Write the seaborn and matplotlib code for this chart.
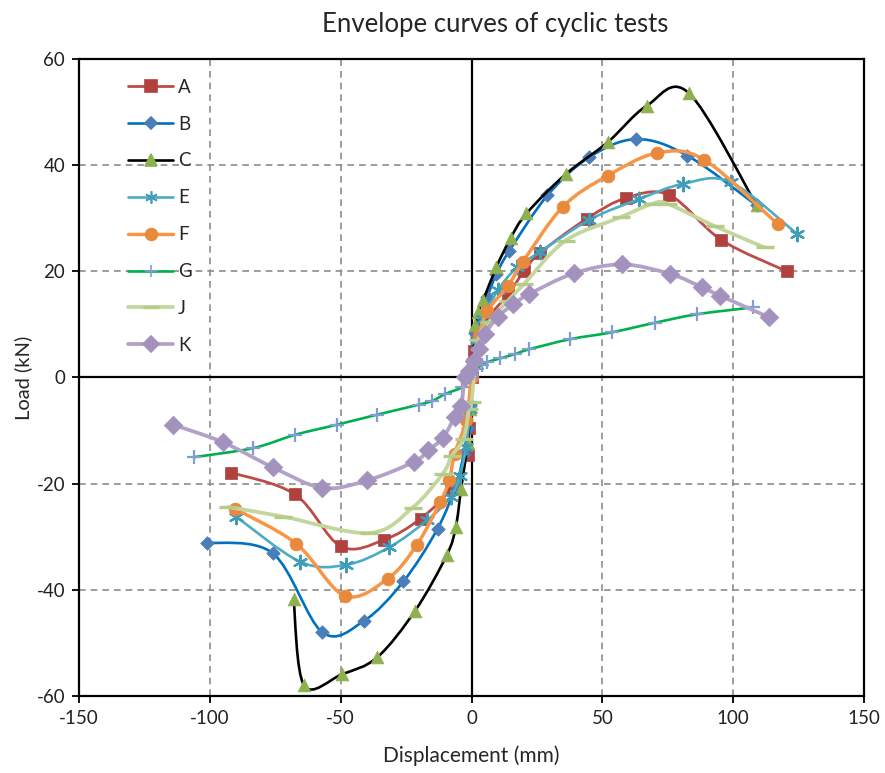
"""Envelope curves of cyclic tests (load vs displacement)."""
import matplotlib
matplotlib.use("Agg")
import matplotlib.pyplot as plt
from matplotlib.lines import Line2D
from matplotlib.path import Path
from matplotlib.patches import PathPatch
import numpy as np
import seaborn as sns

# ---- data (displacement mm, load kN) ----
A_DISP = [-92, -67.5, -50, -33.5, -19.5, -8, -1.5, -1, 0, 1, 4.5, 14, 20, 26, 44, 59, 75.5, 95.5, 120.5]
A_LOAD = [-17.9, -22.0, -31.8, -30.6, -26.6, -21.0, -14.6, -9.5, 0, 5, 10.1, 15.7, 20.0, 23.4, 29.9, 33.8, 34.4, 25.9, 20.0]

B_DISP = [-101, -76, -57, -41, -26, -13, -6, -3, -1.5, -0.5, 0.5, 1.5, 6, 9.5, 14.5, 29, 45, 63, 82.5, 109]
B_LOAD = [-31.1, -33.1, -48.0, -45.8, -38.4, -28.5, -20.3, -14.5, -9.5, -5, 3, 8.3, 15.1, 19.5, 23.9, 34.3, 41.5, 44.9, 41.8, 32.4]

C_DISP = [-68, -64, -49.5, -36, -21.5, -9.5, -6, -4, -1.5, -0.5, 0.5, 1.5, 2.5, 4.5, 9.5, 15, 21, 36, 52, 67, 83, 109]
C_LOAD = [-41.8, -58.0, -55.9, -52.7, -43.9, -33.5, -28.1, -21.0, -12.4, -6, 3, 9.8, 12.3, 14.6, 20.8, 26.3, 30.9, 38.3, 44.3, 51.2, 53.6, 32.4]

E_DISP = [-90, -65.5, -48, -31.5, -17, -8, -4.5, -2, -0.5, 0.5, 2, 4.5, 10, 17.5, 26, 45, 64, 81, 99, 124.5]
E_LOAD = [-26.2, -34.7, -35.3, -32.0, -26.9, -22.5, -18.5, -13, -6, 3, 7, 11, 16.4, 20.8, 23.6, 29.7, 33.6, 36.5, 36.8, 27.0]

F_DISP = [-90.5, -67, -48.5, -32, -21, -12, -8.5, -6.5, -2, 0, 3, 6, 14, 19.5, 35, 52, 71, 89, 117]
F_LOAD = [-24.7, -31.3, -41.1, -37.9, -31.6, -23.5, -19.4, -14.4, -8, 0, 8, 12.5, 17.3, 21.7, 32.2, 38.0, 42.3, 41.0, 28.9]

G_DISP = [-106, -83.5, -67.5, -51.5, -36, -20, -15, -10, -3.5, 0, 2, 4, 6, 11, 16.5, 22, 37.5, 53.5, 70, 86, 107.5]
G_LOAD = [-15.0, -13.3, -10.8, -8.9, -7.0, -5.1, -4.4, -3.1, -1.8, 0, 1.6, 2.4, 2.9, 3.6, 4.4, 5.3, 7.2, 8.5, 10.3, 11.9, 13.2]

J_DISP = [-93, -72, -39, -22.5, -11, -7.5, -3, -1, 0, 2.5, 6.5, 14, 20, 36, 57, 69, 75, 93, 112]
J_LOAD = [-24.4, -26.2, -29.3, -24.5, -18.1, -14.7, -11.5, -6, -4.6, 7, 10.4, 14.5, 17.6, 25.8, 30.2, 32.7, 32.7, 28.5, 24.5]

K_DISP = [-114, -95, -76, -57, -40, -22, -16.5, -11, -6.5, -4, -2.5, -1, 1, 3, 5, 10, 16, 22, 39, 57.5, 76, 88, 95, 113.5]
K_LOAD = [-8.9, -12.2, -16.9, -20.8, -19.4, -15.9, -13.7, -11.4, -7.5, -5.3, 0.1, 1.3, 3.2, 5.4, 8.1, 11.4, 13.8, 15.7, 19.6, 21.3, 19.5, 17.0, 15.4, 11.4]

NAMES = ["A", "B", "C", "E", "F", "G", "J", "K"]
DISPS = [A_DISP, B_DISP, C_DISP, E_DISP, F_DISP, G_DISP, J_DISP, K_DISP]
LOADS = [A_LOAD, B_LOAD, C_LOAD, E_LOAD, F_LOAD, G_LOAD, J_LOAD, K_LOAD]

STYLES = {
    "A": dict(line="#BE4B48", lw=2.0, marker="s", mc="#B0413E", s=75, ms=8.5),
    "B": dict(line="#0070C0", lw=1.9, marker="D", mc="#4A7EBB", s=48, ms=6.5),
    "C": dict(line="#000000", lw=1.9, marker="^", mc="#8EB04E", s=85, ms=8.5),
    "E": dict(line="#4BACC6", lw=1.9, marker=(6, 2, 0), mc="#3F9DB8", s=95, ms=9),
    "F": dict(line="#F79646", lw=2.5, marker="o", mc="#E8893C", s=85, ms=8.5),
    "G": dict(line="#00B050", lw=1.9, marker="+", mc="#7F9FD2", s=95, ms=9),
    "J": dict(line="#C3D69B", lw=2.7, marker="_", mc="#B5CC88", s=160, ms=12),
    "K": dict(line="#B3A2C7", lw=2.7, marker="D", mc="#A391BE", s=90, ms=8.5),
}


def smooth_path(x, y):
    """Excel-style smoothed line: cubic Bezier segments through every point."""
    pts = np.column_stack([x, y]).astype(float)
    ext = np.vstack([pts[0], pts, pts[-1]])
    verts = [pts[0]]
    codes = [Path.MOVETO]
    for i in range(len(pts) - 1):
        p0, p1, p2, p3 = ext[i], ext[i + 1], ext[i + 2], ext[i + 3]
        verts += [p1 + (p2 - p0) / 6, p2 - (p3 - p1) / 6, p2]
        codes += [Path.CURVE4] * 3
    return Path(verts, codes)


sns.set_style("white")
plt.rcParams["font.family"] = ["Lato", "DejaVu Sans"]
plt.rcParams["axes.unicode_minus"] = False

fig = plt.figure(figsize=(8.85, 7.73), dpi=100)
ax = fig.add_axes([0.0893, 0.0996, 0.8870, 0.8241])

for i, (name, xs, ys) in enumerate(zip(NAMES, DISPS, LOADS)):
    st = STYLES[name]
    z = 3 + i * 0.1
    ax.add_patch(PathPatch(smooth_path(xs, ys), fill=False, edgecolor=st["line"],
                           lw=st["lw"], zorder=z, capstyle="round", joinstyle="round"))
    kws = dict(marker=st["marker"], s=st["s"], color=st["mc"], zorder=z + 0.05,
               legend=False, ax=ax)
    if st["marker"] in ("+", "_") or isinstance(st["marker"], tuple):
        kws["linewidth"] = 2.4 if st["marker"] == "_" else 1.6
    else:
        kws["edgecolor"] = st["mc"]
        kws["linewidth"] = 0.5
    sns.scatterplot(x=xs, y=ys, **kws)

ax.set_xlim(-150, 150)
ax.set_ylim(-60, 60)
ax.set_xticks(np.arange(-150, 151, 50))
ax.set_yticks(np.arange(-60, 61, 20))

for v in (-100, -50, 50, 100):
    ax.axvline(v, color="#8C8C8C", lw=1.2, ls=(0, (4, 3)), zorder=1)
for v in (-40, -20, 20, 40):
    ax.axhline(v, color="#8C8C8C", lw=1.2, ls=(0, (4, 3)), zorder=1)
ax.axvline(0, color="black", lw=1.6, zorder=2)
ax.axhline(0, color="black", lw=1.6, zorder=2)

for sp in ax.spines.values():
    sp.set_color("black")
    sp.set_linewidth(1.6)
ax.tick_params(axis="both", direction="out", length=5, width=1.3, color="black",
               labelsize=13.5, labelcolor="#222222", left=True, bottom=True, pad=5)

ax.set_xlabel("Displacement (mm)", fontsize=15, labelpad=13)
ax.set_ylabel("Load (kN)", fontsize=14.5, labelpad=3)
fig.suptitle("Envelope curves of cyclic tests", fontsize=18.5, x=0.559, y=0.985)

handles = []
for name in NAMES:
    st = STYLES[name]
    handles.append(Line2D([], [], color=st["line"], lw=st["lw"], marker=st["marker"],
                          markersize=st["ms"], markerfacecolor=st["mc"],
                          markeredgecolor=st["mc"],
                          markeredgewidth=2.4 if st["marker"] == "_" else 1.2))
ax.legend(handles, NAMES, loc="upper left", bbox_to_anchor=(0.063, 0.969),
          frameon=False, fontsize=13.5, handlelength=2.35, handletextpad=0.3,
          labelspacing=1.06, borderpad=0, borderaxespad=0)

fig.savefig("out.png", dpi=100)
plt.close(fig)
